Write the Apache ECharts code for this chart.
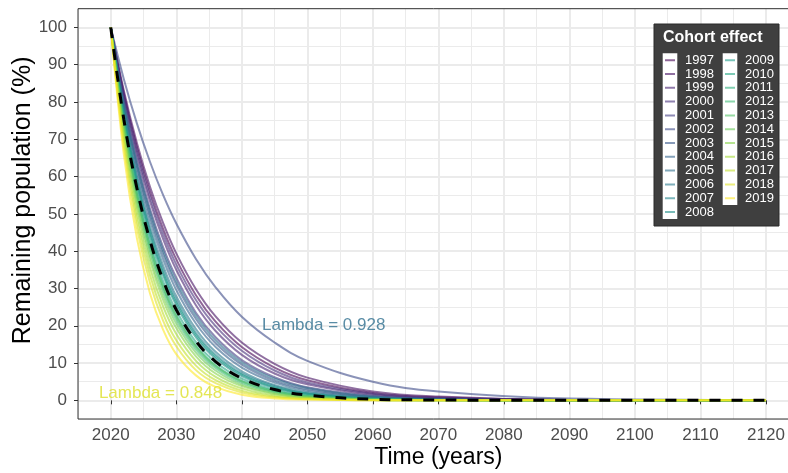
<!DOCTYPE html>
<html><head><meta charset="utf-8">
<script src="https://cdn.jsdelivr.net/npm/echarts@6/dist/echarts.min.js"></script>
<style>html,body{margin:0;padding:0;background:#fff}#c{width:788px;height:473px}</style>
</head><body><div id="c"></div>
<script>
// ---- data ----
const years = [2020, 2022, 2024, 2026, 2028, 2030, 2033, 2036, 2040, 2045, 2050, 2060, 2070, 2090, 2120];
const cohorts = ['1997','1998','1999','2000','2001','2002','2003','2004','2005','2006','2007','2008','2009','2010','2011','2012','2013','2014','2015','2016','2017','2018','2019'];
const v1997 = [100, 82.3, 67.8, 55.8, 45.9, 37.8, 28.2, 21.1, 14.3, 8.8, 5.4, 2.0, 0.8, 0.1, 0];
const v1998 = [100, 83.0, 68.9, 57.2, 47.5, 39.4, 29.8, 22.5, 15.5, 9.8, 6.1, 2.4, 1.0, 0.1, 0];
const v1999 = [100, 81.1, 65.7, 53.3, 43.2, 35.0, 25.5, 18.6, 12.2, 7.2, 4.3, 1.5, 0.5, 0.1, 0];
const v2000 = [100, 81.7, 66.8, 54.6, 44.6, 36.4, 26.9, 19.9, 13.3, 8.0, 4.8, 1.8, 0.6, 0.1, 0];
const v2001 = [100, 80.0, 64.1, 51.3, 41.0, 32.9, 23.5, 16.9, 10.8, 6.2, 3.5, 1.2, 0.4, 0, 0];
const v2002 = [100, 86.1, 74.2, 63.9, 55.0, 47.4, 37.9, 30.3, 22.4, 15.5, 10.6, 5.0, 2.4, 0.5, 0.1];
const v2003 = [100, 79.1, 62.6, 49.5, 39.2, 31.0, 21.8, 15.3, 9.6, 5.3, 3.0, 0.9, 0.3, 0, 0];
const v2004 = [100, 78.4, 61.5, 48.2, 37.8, 29.6, 20.6, 14.3, 8.8, 4.8, 2.6, 0.8, 0.2, 0, 0];
const v2005 = [100, 79.6, 63.3, 50.4, 40.1, 31.9, 22.7, 16.1, 10.2, 5.8, 3.3, 1.0, 0.3, 0, 0];
const v2006 = [100, 77.5, 60.0, 46.5, 36.1, 27.9, 19.1, 13.0, 7.8, 4.1, 2.2, 0.6, 0.2, 0, 0];
const v2007 = [100, 76.9, 59.1, 45.5, 35.0, 26.9, 18.1, 12.2, 7.2, 3.8, 1.9, 0.5, 0.1, 0, 0];
const v2008 = [100, 76.1, 57.9, 44.0, 33.5, 25.5, 16.9, 11.2, 6.5, 3.3, 1.7, 0.4, 0.1, 0, 0];
const v2009 = [100, 76.5, 58.5, 44.8, 34.2, 26.2, 17.5, 11.7, 6.9, 3.5, 1.8, 0.5, 0.1, 0, 0];
const v2010 = [100, 75.2, 56.5, 42.5, 31.9, 24.0, 15.6, 10.2, 5.8, 2.8, 1.4, 0.3, 0.1, 0, 0];
const v2011 = [100, 74.5, 55.4, 41.3, 30.7, 22.9, 14.7, 9.4, 5.2, 2.5, 1.2, 0.3, 0.1, 0, 0];
const v2012 = [100, 73.7, 54.3, 40.0, 29.5, 21.7, 13.7, 8.7, 4.7, 2.2, 1.0, 0.2, 0, 0, 0];
const v2013 = [100, 74.2, 55.1, 40.9, 30.3, 22.5, 14.4, 9.2, 5.1, 2.4, 1.1, 0.3, 0.1, 0, 0];
const v2014 = [100, 72.9, 53.1, 38.7, 28.2, 20.6, 12.8, 8.0, 4.2, 1.9, 0.9, 0.2, 0, 0, 0];
const v2015 = [100, 72.0, 51.9, 37.4, 26.9, 19.4, 11.8, 7.2, 3.8, 1.7, 0.7, 0.1, 0, 0, 0];
const v2016 = [100, 70.8, 50.1, 35.5, 25.1, 17.8, 10.6, 6.3, 3.2, 1.3, 0.6, 0.1, 0, 0, 0];
const v2017 = [100, 69.4, 48.2, 33.5, 23.2, 16.1, 9.3, 5.4, 2.6, 1.0, 0.4, 0.1, 0, 0, 0];
const v2018 = [100, 68.0, 46.2, 31.4, 21.3, 14.5, 8.1, 4.6, 2.1, 0.8, 0.3, 0, 0, 0, 0];
const v2019 = [100, 65.9, 43.4, 28.6, 18.9, 12.4, 6.7, 3.6, 1.5, 0.5, 0.2, 0, 0, 0, 0];
const meanValues = [100, 75.3, 56.8, 42.8, 32.2, 24.3, 15.9, 10.4, 5.9, 2.9, 1.4, 0.3, 0.1, 0, 0];
const cohortValues = [v1997, v1998, v1999, v2000, v2001, v2002, v2003, v2004, v2005, v2006, v2007, v2008,
  v2009, v2010, v2011, v2012, v2013, v2014, v2015, v2016, v2017, v2018, v2019];
const cohortColors = ['#440154','#461163','#472171','#46307C','#423E83','#3D4B89','#38588B','#33648D','#2E6F8E','#2A7A8E','#25858E','#22908B',
  '#209C8A','#26A684','#2FB07D','#3DBA75','#54C368','#6BCC5A','#87D349','#A4DA36','#C1E02B','#DFE328','#FDE725'];
const xTicks = [2020, 2030, 2040, 2050, 2060, 2070, 2080, 2090, 2100, 2110, 2120];
const yTicks = [0, 10, 20, 30, 40, 50, 60, 70, 80, 90, 100];
const annLabels = ['Lambda = 0.928', 'Lambda = 0.848'];
const annX = [2052.5, 2027.6];
const annY = [20.2, 1.9];
const annColors = ['#2f6f8f', '#dde02a'];

// ---- chart ----
const FONT = '"Liberation Sans", Arial, sans-serif';
function rgba(hex, a) {
  const n = parseInt(hex.slice(1), 16);
  return 'rgba(' + (n >> 16 & 255) + ',' + (n >> 8 & 255) + ',' + (n & 255) + ',' + a + ')';
}
const XMIN = 2015, XMAX = 2125, YMIN = -5, YMAX = 105;
const gridBox = { left: 78, top: 8.7, width: 720.7, height: 410.3 };
const MAJOR = '#EBEBEB';

function hiddenAxis(extra) {
  return Object.assign({
    type: 'value', min: 0, max: 1, interval: 5, show: true,
    axisLine: { show: false }, axisTick: { show: false }, axisLabel: { show: false }
  }, extra);
}

const xAxes = [
  { type: 'value', min: XMIN, max: XMAX, position: 'bottom',
    axisLine: { show: false },
    axisTick: { show: true, customValues: xTicks, length: 4, lineStyle: { color: '#333333', width: 1 } },
    axisLabel: { show: true, customValues: xTicks, formatter: v => String(v), color: '#4D4D4D', fontSize: 17, fontFamily: FONT, margin: 8 },
    splitLine: { show: false },
    name: 'Time (years)', nameLocation: 'middle', nameGap: 27, nameMoveOverlap: false,
    nameTextStyle: { color: '#000', fontSize: 23, fontFamily: FONT } },
  hiddenAxis({ min: XMIN, max: XMAX, splitLine: { show: true, lineStyle: { color: ['rgba(0,0,0,0)', MAJOR], width: 2 } } }),
  hiddenAxis({ min: XMIN, max: XMAX, splitLine: { show: true, lineStyle: { color: MAJOR, width: 1 } } })
];
const yAxes = [
  { type: 'value', min: YMIN, max: YMAX, position: 'left',
    axisLine: { show: false },
    axisTick: { show: true, customValues: yTicks, length: 4, lineStyle: { color: '#333333', width: 1 } },
    axisLabel: { show: true, customValues: yTicks, formatter: v => String(v), color: '#4D4D4D', fontSize: 17, fontFamily: FONT, margin: 11 },
    splitLine: { show: false },
    name: 'Remaining population (%)', nameLocation: 'middle', nameGap: 42, nameMoveOverlap: false,
    nameTextStyle: { color: '#000', fontSize: 25, fontFamily: FONT, padding: [0, 0, 0, 27] } },
  hiddenAxis({ min: YMIN, max: YMAX, splitLine: { show: true, lineStyle: { color: ['rgba(0,0,0,0)', MAJOR], width: 2 } } }),
  hiddenAxis({ min: YMIN, max: YMAX, splitLine: { show: true, lineStyle: { color: MAJOR, width: 1 } } })
];

const series = cohorts.map((c, i) => ({
  type: 'line', name: c, xAxisIndex: 0, yAxisIndex: 0,
  data: years.map((y, j) => [y, cohortValues[i][j]]),
  smooth: 0.4, showSymbol: false, symbol: 'none',
  lineStyle: { color: rgba(cohortColors[i], 0.6), width: 2 },
  itemStyle: { color: rgba(cohortColors[i], 0.6) },
  silent: true, z: 2
}));
series.push({
  type: 'line', name: 'Mean', xAxisIndex: 0, yAxisIndex: 0,
  data: years.map((y, j) => [y, meanValues[j]]),
  smooth: 0.4, showSymbol: false, symbol: 'none',
  lineStyle: { color: '#000', width: 3, type: [11, 11] },
  itemStyle: { color: '#000' }, silent: true, z: 3
});
annLabels.forEach((t, i) => {
  series.push({
    type: 'scatter', name: 'ann' + i, xAxisIndex: 0, yAxisIndex: 0,
    data: [[annX[i], annY[i]]], symbolSize: 1, itemStyle: { color: 'rgba(0,0,0,0)' },
    label: { show: true, position: 'inside', formatter: t, color: annColors[i], fontSize: 17, fontFamily: FONT },
    silent: true, z: 4
  });
});

const ICON = 'path://M0,0L10,0L10,2L0,2Z M15,0L15,2';
const legendCommon = {
  orient: 'vertical', top: 53.3, padding: 0, itemGap: 0, itemWidth: 15, itemHeight: 2,
  icon: ICON, selectedMode: false, z: 12,
  textStyle: { color: '#ffffff', fontSize: 13, fontFamily: FONT, lineHeight: 13.8 }
};

const option = {
  animation: false,
  backgroundColor: '#ffffff',
  grid: Object.assign({ show: true, borderColor: '#333333', borderWidth: 1, backgroundColor: 'rgba(0,0,0,0)', z: 6,
    containLabel: false, outerBoundsMode: 'none' }, gridBox),
  xAxis: xAxes,
  yAxis: yAxes,
  legend: [
    Object.assign({ left: 665, data: cohorts.slice(0, 12) }, legendCommon),
    Object.assign({ left: 725, data: cohorts.slice(12) }, legendCommon)
  ],
  graphic: [
    { type: 'rect', z: 8, shape: { x: 654, y: 24, width: 125, height: 202 }, style: { fill: '#3f3f3f', stroke: '#2b2b2b', lineWidth: 1 } },
    { type: 'rect', z: 9, shape: { x: 662.7, y: 53.3, width: 14.6, height: 165.6 }, style: { fill: '#ffffff' } },
    { type: 'rect', z: 9, shape: { x: 722.7, y: 53.3, width: 14.6, height: 151.8 }, style: { fill: '#ffffff' } },
    { type: 'text', z: 10, left: 663, top: 30, style: { text: 'Cohort effect', fill: '#ffffff', font: 'bold 16px ' + FONT } }
  ],
  series: series
};
const chart = echarts.init(document.getElementById('c'), null, { renderer: 'canvas' });
chart.setOption(option);
</script></body></html>
